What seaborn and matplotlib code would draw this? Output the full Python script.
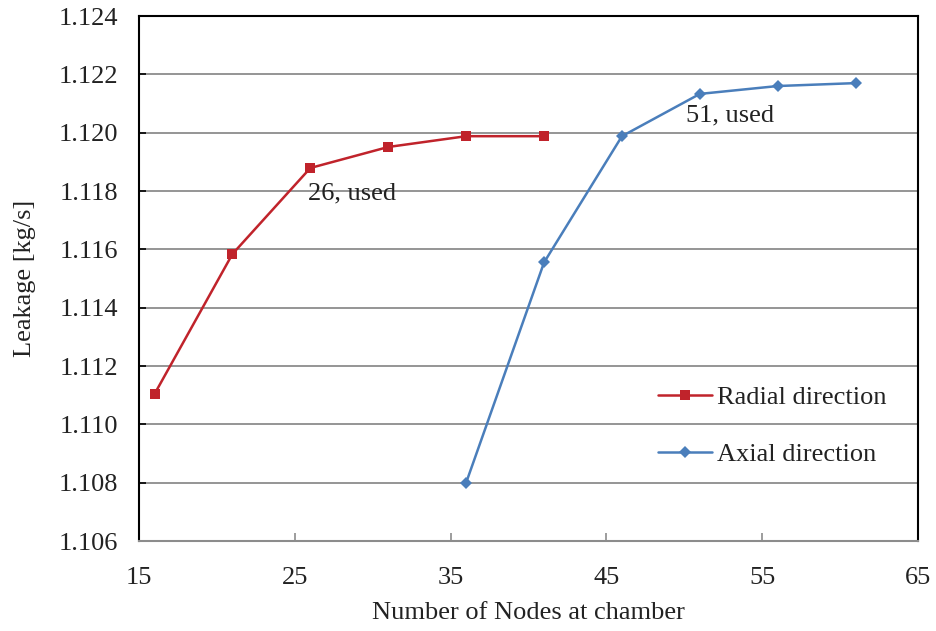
import matplotlib
matplotlib.use("Agg")
import matplotlib.pyplot as plt
import seaborn as sns
import pandas as pd

radial_nodes = [16, 21, 26, 31, 36, 41]
radial_leak = [1.11104, 1.11584, 1.11879, 1.11951, 1.11988, 1.11988]
axial_nodes = [36, 41, 46, 51, 56, 61]
axial_leak = [1.10800, 1.11555, 1.11988, 1.12133, 1.12160, 1.12170]
series_names = ["Radial direction", "Axial direction"]
x_ticks = [15, 25, 35, 45, 55, 65]
y_ticks = [1.106, 1.108, 1.110, 1.112, 1.114, 1.116, 1.118, 1.120, 1.122, 1.124]

df = pd.DataFrame({
    "nodes": radial_nodes + axial_nodes,
    "leak": radial_leak + axial_leak,
    "series": [series_names[0]] * len(radial_nodes) + [series_names[1]] * len(axial_nodes),
})

sns.set_style("white")
plt.rcParams["font.family"] = ["Liberation Serif", "DejaVu Serif"]
FS = 19

fig = plt.figure(figsize=(9.37, 6.31), dpi=100)
ax = fig.add_axes([0.1483, 0.1426, 0.9797 - 0.1483, 0.9746 - 0.1426])

palette = {series_names[0]: "#C0232B", series_names[1]: "#4A7EBB"}
sns.lineplot(data=df, x="nodes", y="leak", hue="series", style="series",
             markers={series_names[0]: "s", series_names[1]: "D"},
             dashes=False, palette=palette, ax=ax, linewidth=1.8,
             markeredgewidth=0)
for line in ax.lines:
    if line.get_marker() == "s":
        line.set_markersize(7.5)
    else:
        line.set_markersize(6)

ax.set_xlim(15, 65)
ax.set_ylim(1.106, 1.124)
ax.set_xticks(x_ticks)
ax.set_yticks(y_ticks)
ax.set_yticklabels([f"{v:.3f}" for v in y_ticks])
ax.grid(axis="y", color="#8C8C8C", linewidth=1.3)
ax.set_axisbelow(True)

for s in ["left", "top", "right"]:
    ax.spines[s].set_color("black")
    ax.spines[s].set_linewidth(1.5)
ax.spines["bottom"].set_color("#8C8C8C")
ax.spines["bottom"].set_linewidth(1.5)

ax.tick_params(axis="x", direction="in", length=6, color="#8C8C8C", width=1.2,
               labelsize=FS, pad=19, bottom=True)
ax.tick_params(axis="y", direction="in", length=5, color="black", width=1.2,
               labelsize=FS, pad=15, left=True)
for lab in ax.get_xticklabels() + ax.get_yticklabels():
    lab.set_color("#222222")

ax.set_xlabel("Number of Nodes at chamber", fontsize=FS, color="#222222", labelpad=9)
ax.set_ylabel("Leakage [kg/s]", fontsize=FS, color="#222222", labelpad=16)

ax.text(25.85, 1.11793, "26, used", fontsize=FS, va="center", ha="left", color="#222222")
ax.text(50.1, 1.12058, "51, used", fontsize=FS, va="center", ha="left", color="#222222")

leg = ax.legend(loc="center left", bbox_to_anchor=(0.666, 0.2195), frameon=False,
                fontsize=FS, labelspacing=1.27, handlelength=2.05, handletextpad=0.2,
                borderpad=0, borderaxespad=0)
for t in leg.get_texts():
    t.set_color("#222222")

fig.savefig("out.png", dpi=100)
